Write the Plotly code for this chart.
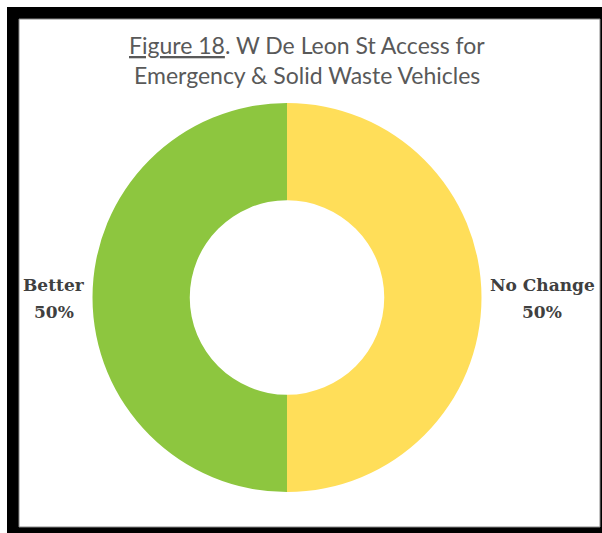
import plotly.graph_objects as go

# Survey responses
categories = ["No Change", "Better"]
values = [50, 50]
colors = ["#FFDE59", "#8DC63F"]

W, H = 602, 533


def px(x):
    return x / W


def py(y):
    return 1 - y / H


fig = go.Figure()

# Donut: centre (287, 297.5), radius ~194.5 px
cx, cy, r = 287, 297.5, 194.5
fig.add_trace(go.Pie(
    labels=categories,
    values=values,
    hole=0.5,
    sort=False,
    direction="clockwise",
    rotation=0,
    marker=dict(colors=colors, line=dict(width=0)),
    textinfo="none",
    hoverinfo="label+percent",
    showlegend=False,
    domain=dict(x=[px(cx - r), px(cx + r)], y=[py(cy + r), py(cy - r)]),
))

total = sum(values)
pct = {c: v / total * 100 for c, v in zip(categories, values)}

label_font = dict(family="DejaVu Serif", size=17, color="#404040")
label_x = {"No Change": 542, "Better": 54}
annotations = []
for c in categories:
    for text, y in ((f"<b>{c}</b>", 285), (f"<b>{pct[c]:.0f}%</b>", 312)):
        annotations.append(dict(
            x=px(label_x[c]), y=py(y), xref="paper", yref="paper",
            text=text, showarrow=False, font=label_font,
            xanchor="center", yanchor="middle",
        ))

title_font = dict(family="Lato", size=23, color="#595959")
annotations.append(dict(
    x=px(307), y=py(45), xref="paper", yref="paper",
    text="<u>Figure 18</u>. W De Leon St Access for",
    showarrow=False, font=title_font, xanchor="center", yanchor="middle",
))
annotations.append(dict(
    x=px(307), y=py(75), xref="paper", yref="paper",
    text="Emergency &amp; Solid Waste Vehicles",
    showarrow=False, font=title_font, xanchor="center", yanchor="middle",
))

# Frame: black band with a white inner panel
shapes = [
    dict(type="rect", xref="paper", yref="paper", layer="below",
         x0=px(7), x1=px(602), y0=py(533), y1=py(7),
         fillcolor="black", line=dict(width=0)),
    dict(type="rect", xref="paper", yref="paper", layer="below",
         x0=px(19), x1=px(600), y0=py(527), y1=py(19),
         fillcolor="white", line=dict(color="#888888", width=1)),
]

fig.update_layout(
    width=W, height=H,
    margin=dict(l=0, r=0, t=0, b=0),
    paper_bgcolor="white",
    plot_bgcolor="white",
    annotations=annotations,
    shapes=shapes,
)

fig.write_html("out.html")
